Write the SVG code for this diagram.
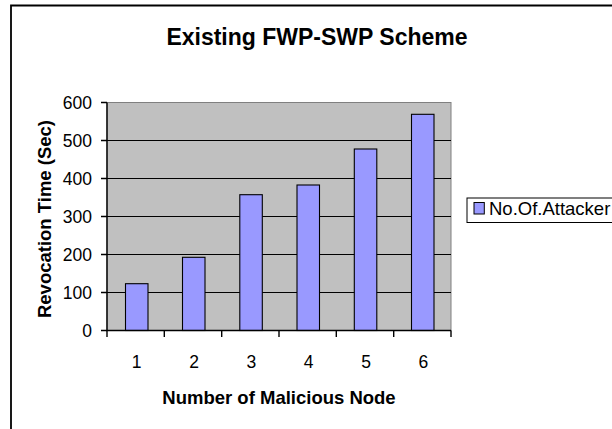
<svg xmlns="http://www.w3.org/2000/svg" width="612" height="429" viewBox="0 0 612 429">
  <style>
    text { font-family: "Liberation Sans", Arial, sans-serif; fill: #000; }
    .title { font-size: 23px; font-weight: bold; }
    .axis-title { font-size: 18.5px; font-weight: bold; }
    .tick { font-size: 17.5px; }
    .legend-text { font-size: 18.5px; }
    .grid { stroke: #000; stroke-width: 1.2; }
    .axis { stroke: #000; stroke-width: 1.4; fill: none; }
    .bar { fill: #9999FF; stroke: #000; stroke-width: 1.1; }
  </style>

  <rect x="0" y="0" width="612" height="429" fill="#fff"/>

  <!-- chart frame (left and top edges) -->
  <path d="M11 429 V5.5 H612" fill="none" stroke="#000" stroke-width="1.8"/>

  <!-- title -->
  <text class="title" x="317" y="44.5" text-anchor="middle">Existing FWP-SWP Scheme</text>

  <!-- plot area -->
  <g id="plot-area">
    <rect x="107" y="102.5" width="344" height="228" fill="#C0C0C0" stroke="#808080" stroke-width="1"/>
    <line class="grid" x1="107" y1="140.5" x2="451" y2="140.5"/>
    <line class="grid" x1="107" y1="178.5" x2="451" y2="178.5"/>
    <line class="grid" x1="107" y1="216.5" x2="451" y2="216.5"/>
    <line class="grid" x1="107" y1="254.5" x2="451" y2="254.5"/>
    <line class="grid" x1="107" y1="292.5" x2="451" y2="292.5"/>
  </g>

  <!-- bars -->
  <g id="bars">
    <rect class="bar" x="125.5" y="283.7" width="22.5" height="46.8"/>
    <rect class="bar" x="182.5" y="257.3" width="22.5" height="73.2"/>
    <rect class="bar" x="239.8" y="194.7" width="22.5" height="135.8"/>
    <rect class="bar" x="297" y="185" width="22.5" height="145.5"/>
    <rect class="bar" x="354.3" y="149" width="22.5" height="181.5"/>
    <rect class="bar" x="411.5" y="114.3" width="22.5" height="216.2"/>
  </g>

  <!-- axes and ticks -->
  <g id="axes">
    <path class="axis" d="M107 102.5 V330.5 H451"/>
    <path class="axis" d="M101 102.5 H107 M101 140.5 H107 M101 178.5 H107 M101 216.5 H107 M101 254.5 H107 M101 292.5 H107 M101 330.5 H107"/>
    <path class="axis" d="M107 330.5 V337 M164.3 330.5 V337 M221.7 330.5 V337 M279 330.5 V337 M336.3 330.5 V337 M393.7 330.5 V337 M451 330.5 V337"/>
  </g>

  <!-- y tick labels -->
  <g id="y-labels" text-anchor="end">
    <text class="tick" x="92" y="109">600</text>
    <text class="tick" x="92" y="147">500</text>
    <text class="tick" x="92" y="185">400</text>
    <text class="tick" x="92" y="223">300</text>
    <text class="tick" x="92" y="261">200</text>
    <text class="tick" x="92" y="299">100</text>
    <text class="tick" x="92" y="337">0</text>
  </g>

  <!-- x tick labels -->
  <g id="x-labels" text-anchor="middle">
    <text class="tick" x="136.7" y="367.5">1</text>
    <text class="tick" x="194" y="367.5">2</text>
    <text class="tick" x="251.3" y="367.5">3</text>
    <text class="tick" x="308.7" y="367.5">4</text>
    <text class="tick" x="366" y="367.5">5</text>
    <text class="tick" x="423.3" y="367.5">6</text>
  </g>

  <!-- axis titles -->
  <text class="axis-title" x="279" y="404" text-anchor="middle">Number of Malicious Node</text>
  <text class="axis-title" transform="translate(51 219) rotate(-90)" text-anchor="middle">Revocation Time (Sec)</text>

  <!-- legend -->
  <g id="legend">
    <rect x="467" y="198" width="150" height="24.5" fill="#fff" stroke="#000" stroke-width="1"/>
    <rect x="474" y="202.5" width="10.3" height="11.5" fill="#9999FF" stroke="#000" stroke-width="1"/>
    <text class="legend-text" x="489" y="214.5">No.Of.Attacker</text>
  </g>
</svg>
